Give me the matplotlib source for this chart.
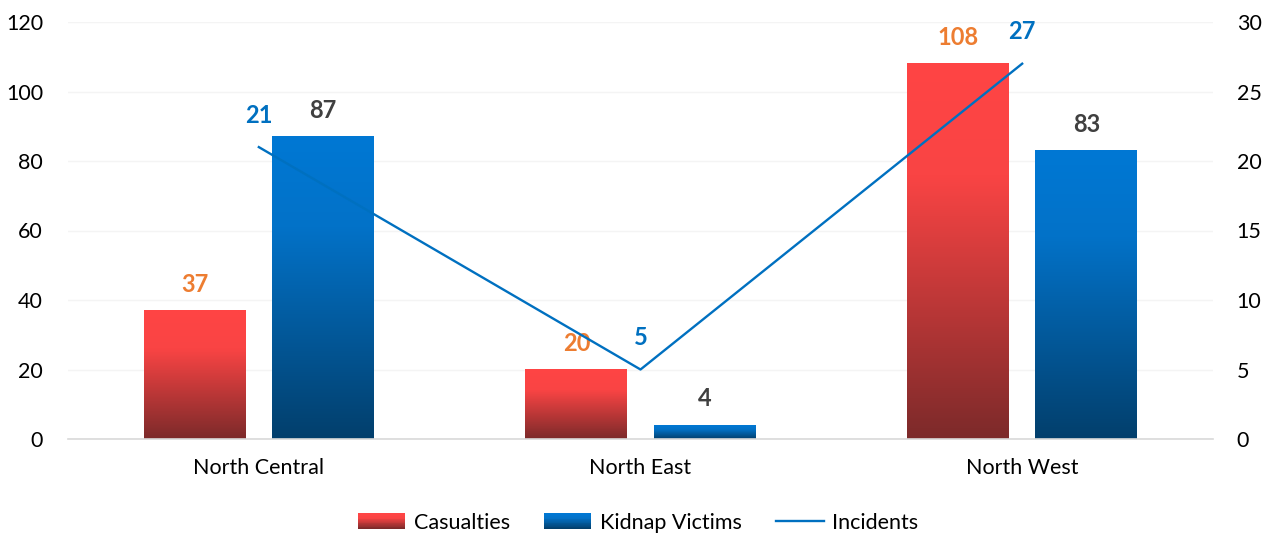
import numpy as np
import matplotlib
matplotlib.use("Agg")
import matplotlib.pyplot as plt
from matplotlib.colors import LinearSegmentedColormap
from matplotlib.patches import Rectangle
from matplotlib.lines import Line2D
from matplotlib.legend_handler import HandlerBase

plt.rcParams['font.family'] = ['Lato', 'DejaVu Sans']

categories = ["North Central", "North East", "North West"]
casualties = [37, 20, 108]
kidnap_victims = [87, 4, 83]
incidents = [21, 5, 27]
left_ticks = [0, 20, 40, 60, 80, 100, 120]
right_ticks = [0, 5, 10, 15, 20, 25, 30]

red_cmap = LinearSegmentedColormap.from_list(
    "red", [(0, "#FF4545"), (0.3, "#F94444"), (1, "#7C2A2A")])
blue_cmap = LinearSegmentedColormap.from_list(
    "blue", [(0, "#0078D4"), (0.3, "#0372C8"), (1, "#023F6C")])

fig = plt.figure(figsize=(12.72, 5.35), dpi=100)
ax = fig.add_axes([68/1272, (535-439)/535, (1213-68)/1272, (439-22)/535])
ax2 = ax.twinx()

x = np.arange(len(categories))
off = 0.168
w = 0.267

grad = np.linspace(0, 1, 256).reshape(-1, 1)

def gradient_bar(axis, xc, h, cmap):
    axis.imshow(grad, cmap=cmap, aspect='auto', extent=(xc - w/2, xc + w/2, 0, h),
                origin='upper', zorder=2, interpolation='bicubic')

LBL = 17
for i in range(len(categories)):
    gradient_bar(ax, x[i] - off, casualties[i], red_cmap)
    gradient_bar(ax, x[i] + off, kidnap_victims[i], blue_cmap)
    ax.annotate(str(casualties[i]), (x[i] - off, casualties[i]), xytext=(0, 19),
                textcoords='offset points', ha='center', va='center',
                fontsize=LBL, fontweight='bold', color='#ED7D31')
    ax.annotate(str(kidnap_victims[i]), (x[i] + off, kidnap_victims[i]), xytext=(0, 19),
                textcoords='offset points', ha='center', va='center',
                fontsize=LBL, fontweight='bold', color='#404040')

ax.set_xlim(-0.5, 2.5)
ax.set_ylim(0, 120)
ax.set_yticks(left_ticks)
ax.set_xticks(x)
ax.set_xticklabels(categories)
ax.tick_params(axis='both', length=0, labelsize=15.5, colors='#000000')
ax.tick_params(axis='y', pad=18)
ax.tick_params(axis='x', pad=14)
ax.grid(axis='y', color='#F4F4F4', linewidth=1, zorder=0)
ax.set_axisbelow(True)
for s in ['top', 'right', 'left']:
    ax.spines[s].set_visible(False)
ax.spines['bottom'].set_color('#D9D9D9')
ax.spines['bottom'].set_linewidth(1.2)

ax2.plot(x, incidents, color='#0070C0', linewidth=1.7, zorder=5)
for i in range(len(categories)):
    ax2.annotate(str(incidents[i]), (x[i], incidents[i]), xytext=(0, 23),
                 textcoords='offset points', ha='center', va='center',
                 fontsize=LBL, fontweight='bold', color='#0070C0')
ax2.set_ylim(0, 30)
ax2.set_yticks(right_ticks)
ax2.tick_params(axis='y', length=0, labelsize=15.5, pad=17, colors='#000000')
for s in ['top', 'right', 'left', 'bottom']:
    ax2.spines[s].set_visible(False)


class GradHandler(HandlerBase):
    def __init__(self, cmap):
        super().__init__()
        self.cmap = cmap

    def create_artists(self, legend, orig_handle, xdescent, ydescent, width, height,
                       fontsize, trans):
        n = 20
        arts = []
        for k in range(n):
            c = self.cmap(k / (n - 1))
            r = Rectangle((-xdescent, -ydescent + height * (n - 1 - k) / n), width, height / n + 0.3,
                          facecolor=c, edgecolor='none', transform=trans)
            arts.append(r)
        return arts

h_cas = Rectangle((0, 0), 1, 1)
h_kid = Rectangle((0, 0), 1, 1)
h_inc = Line2D([], [], color='#0070C0', linewidth=1.7)
fig.legend([h_cas, h_kid, h_inc], ["Casualties", "Kidnap Victims", "Incidents"],
           handler_map={h_cas: GradHandler(red_cmap), h_kid: GradHandler(blue_cmap)},
           loc='center', bbox_to_anchor=(638/1272, (535-523)/535), ncol=3, frameon=False,
           fontsize=15.5, handlelength=2.2, handleheight=0.75, handletextpad=0.4, columnspacing=1.6)

fig.savefig("out.png", dpi=100)
